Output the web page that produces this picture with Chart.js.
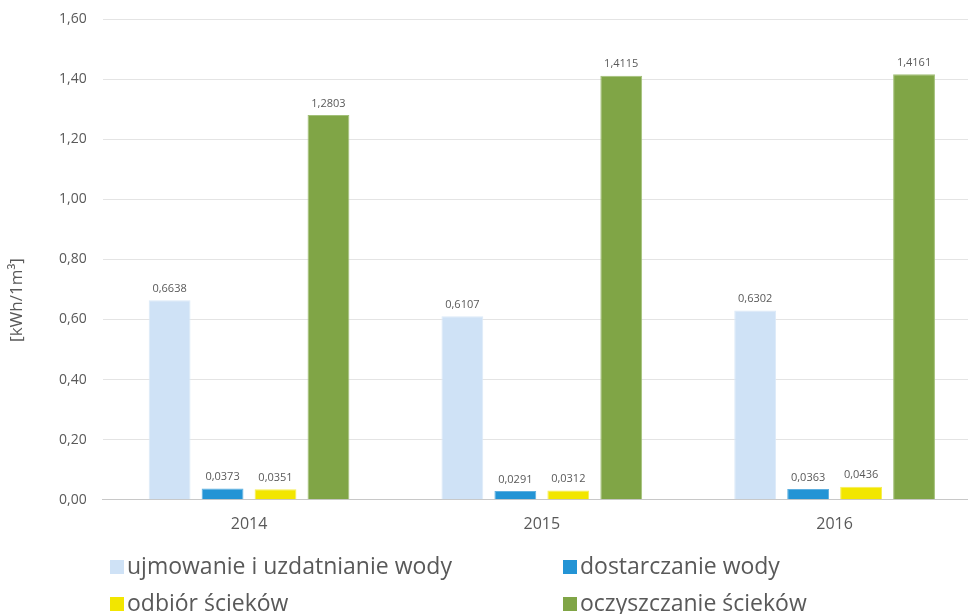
<!DOCTYPE html>
<html>
<head>
<meta charset="utf-8">
<script src="https://cdn.jsdelivr.net/npm/chart.js@4/dist/chart.umd.min.js"></script>
<style>
  html, body { margin: 0; padding: 0; background: #fff; overflow: hidden; }
  #wrap { width: 985px; height: 614px; position: relative; }
</style>
</head>
<body>
<div id="wrap"><canvas id="barChart"></canvas></div>
<script>
"use strict"
// data
var years = ["2014", "2015", "2016"];
var ujmowanie = [0.6638, 0.6107, 0.6302];
var dostarczanie = [0.0373, 0.0291, 0.0363];
var odbior = [0.0351, 0.0312, 0.0436];
var oczyszczanie = [1.2803, 1.4115, 1.4161];
var yTicks = [0, 0.2, 0.4, 0.6, 0.8, 1.0, 1.2, 1.4, 1.6];
var yTitle = "[kWh/1m³]";

var grey = "#595959";
var fontName = "'Open Sans', sans-serif";

function fmt(v, d) {//polish decimal comma
  return v.toFixed(d).replace(".", ",");
}

//value labels over the bars
var valueLabels = {
  id: "valueLabels",
  afterDatasetsDraw: function(chart) {
    var ctx = chart.ctx;
    ctx.save();
    ctx.font = "11px " + fontName;
    ctx.fillStyle = grey;
    ctx.textAlign = "center";
    ctx.textBaseline = "bottom";
    chart.data.datasets.forEach(function(ds, i) {
      chart.getDatasetMeta(i).data.forEach(function(bar, j) {
        ctx.fillText(fmt(ds.data[j], 4), bar.x, bar.y - 6);
      });
    });
    ctx.restore();
  }
};

//legend in two columns + the axis title, which sits lower than centre in the original
var gridLegend = {
  id: "gridLegend",
  afterDraw: function(chart) {
    var ctx = chart.ctx;
    var cols = [110, 563];
    var rows = [567, 604];
    ctx.save();
    ctx.font = "23px " + fontName;
    ctx.textBaseline = "middle";
    chart.data.datasets.forEach(function(ds, i) {
      var x = cols[i % 2];
      var y = rows[Math.floor(i / 2)];
      ctx.fillStyle = ds.backgroundColor;
      ctx.fillRect(x, y - 7, 14, 14);
      ctx.fillStyle = grey;
      ctx.fillText(ds.label, x + 17, y);
    });
    ctx.translate(17, 300);
    ctx.rotate(-Math.PI / 2);
    ctx.font = "17px " + fontName;
    ctx.textAlign = "center";
    ctx.fillText(yTitle, 0, 0);
    ctx.restore();
  }
};

var barC = document.getElementById("barChart");
var barChart = new Chart(barC, {
  type: "bar",
  data: {
    labels: years,
    datasets: [
      { label: "ujmowanie i uzdatnianie wody", data: ujmowanie, backgroundColor: "#cfe2f6", borderColor: "#dceaf8", borderWidth: 1 },
      { label: "dostarczanie wody", data: dostarczanie, backgroundColor: "#2394d5", borderColor: "#5fb0e0", borderWidth: 1 },
      { label: "odbiór ścieków", data: odbior, backgroundColor: "#f2e600", borderColor: "#f6ed55", borderWidth: 1 },
      { label: "oczyszczanie ścieków", data: oczyszczanie, backgroundColor: "#80a546", borderColor: "#a2c078", borderWidth: 1 }
    ]
  },
  options: {
    responsive: true,
    maintainAspectRatio: false,
    animation: false,
    categoryPercentage: 0.7235,
    barPercentage: 0.79,
    layout: { padding: { left: 43, top: 19, right: 4, bottom: 65 } },
    plugins: {
      legend: { display: false },
      tooltip: { enabled: false }
    },
    scales: {
      x: {
        grid: { display: false, drawTicks: false },
        border: { display: true, color: "#c8c8c8" },
        ticks: { color: grey, font: { family: fontName, size: 16 }, padding: 15 }
      },
      y: {
        min: 0,
        max: 1.6,
        afterBuildTicks: function(axis) {
          axis.ticks = yTicks.map(function(v) { return { value: v }; });
        },
        afterFit: function(axis) {
          axis.paddingTop = 0;
          axis.paddingBottom = 0;
        },
        grid: {
          drawTicks: false,
          color: function(c) { return c.tick && c.tick.value === 0 ? "#c8c8c8" : "#e4e4e4"; }
        },
        border: { display: false },
        ticks: {
          color: grey,
          font: { family: fontName, size: 14 },
          padding: 16,
          callback: function(v) { return fmt(v, 2); }
        }
      }
    }
  },
  plugins: [valueLabels, gridLegend]
});
</script>
</body>
</html>
